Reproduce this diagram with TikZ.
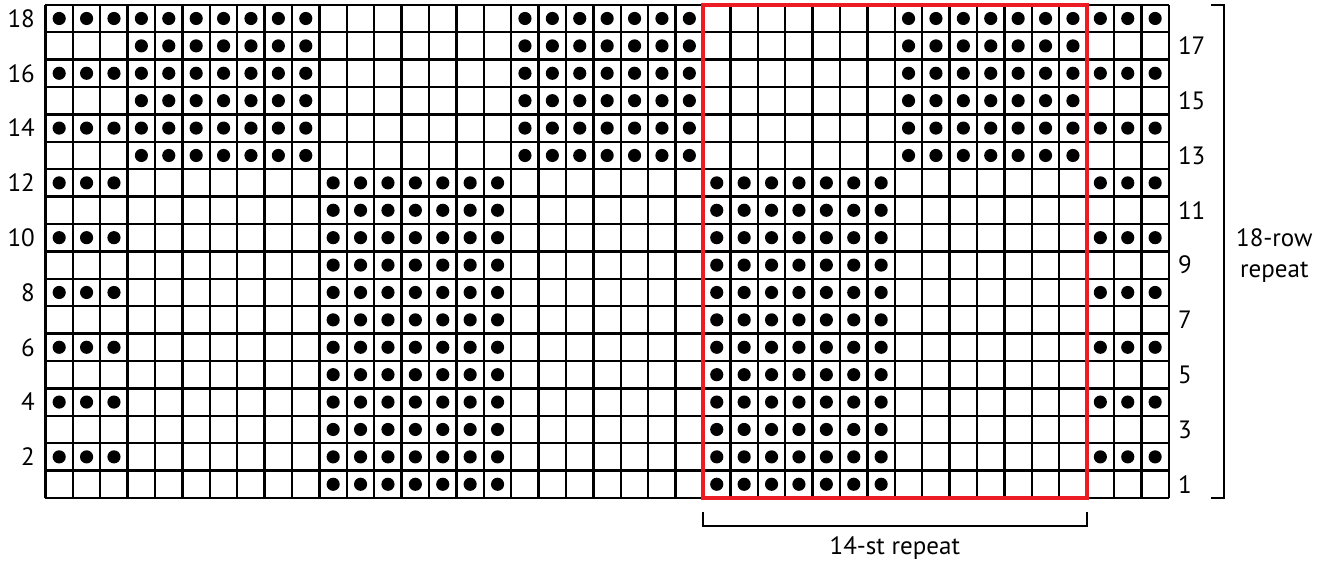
\documentclass[tikz,border=0pt]{standalone}
\usepackage{fontspec}
\setmainfont{PT Sans}
\usetikzlibrary{positioning}
\definecolor{repeatred}{RGB}{237,28,36}

\begin{document}
\begin{tikzpicture}[x=1cm, y=1cm,
    gridline/.style={line width=2.5pt},
    purl/.style={fill=black},
    chartlabel/.style={font=\fontsize{26}{32}\selectfont, inner sep=0pt},
    bracket/.style={line width=2.2pt},
    redbox/.style={draw=repeatred, line width=4.2pt}
]
\useasboundingbox (-1.66,-2.445) rectangle (46.59,18.175);

% chart grid
\draw[gridline] (0,0) grid (41,18);

% purl dots, rows 1-12
\foreach \r in {1,...,12}
  \foreach \o in {10,24}
    \foreach \k in {1,...,7}
      \fill[purl] (\o+\k-0.5,\r-0.5) circle (0.24);
% purl dots, rows 13-18
\foreach \r in {13,...,18}
  \foreach \o in {3,17,31}
    \foreach \k in {1,...,7}
      \fill[purl] (\o+\k-0.5,\r-0.5) circle (0.24);
% edge stitches on even rows
\foreach \r in {2,4,...,18}
  \foreach \c in {1,2,3,39,40,41}
    \fill[purl] (\c-0.5,\r-0.5) circle (0.24);

% row numbers
\foreach \r in {2,4,...,18}
  \node[chartlabel, anchor=east] (even\r) at (-0.38,\r-0.5) {\r};
\foreach \r in {1,3,...,17}
  \node[chartlabel, anchor=west] (odd\r) at (41.33,\r-0.5) {\r};

% repeat box
\draw[redbox] (24,0) rectangle (38,18);

% repeat brackets
\coordinate (rtop) at (43,18);
\coordinate (rbot) at (43,0);
\draw[bracket] ([xshift=-0.45cm]rtop) -- (rtop) -- (rbot) -- ([xshift=-0.45cm]rbot);
\node[chartlabel, align=center] (rowrep) at (44.85,8.85) {18-row\\repeat};

\coordinate (sleft) at (24,-1.02);
\coordinate (sright) at (38,-1.02);
\draw[bracket] ([yshift=0.51cm]sleft) -- (sleft) -- (sright) -- ([yshift=0.51cm]sright);
\node[chartlabel] (strep) at (31,-1.82) {14-st repeat};
\end{tikzpicture}
\end{document}
